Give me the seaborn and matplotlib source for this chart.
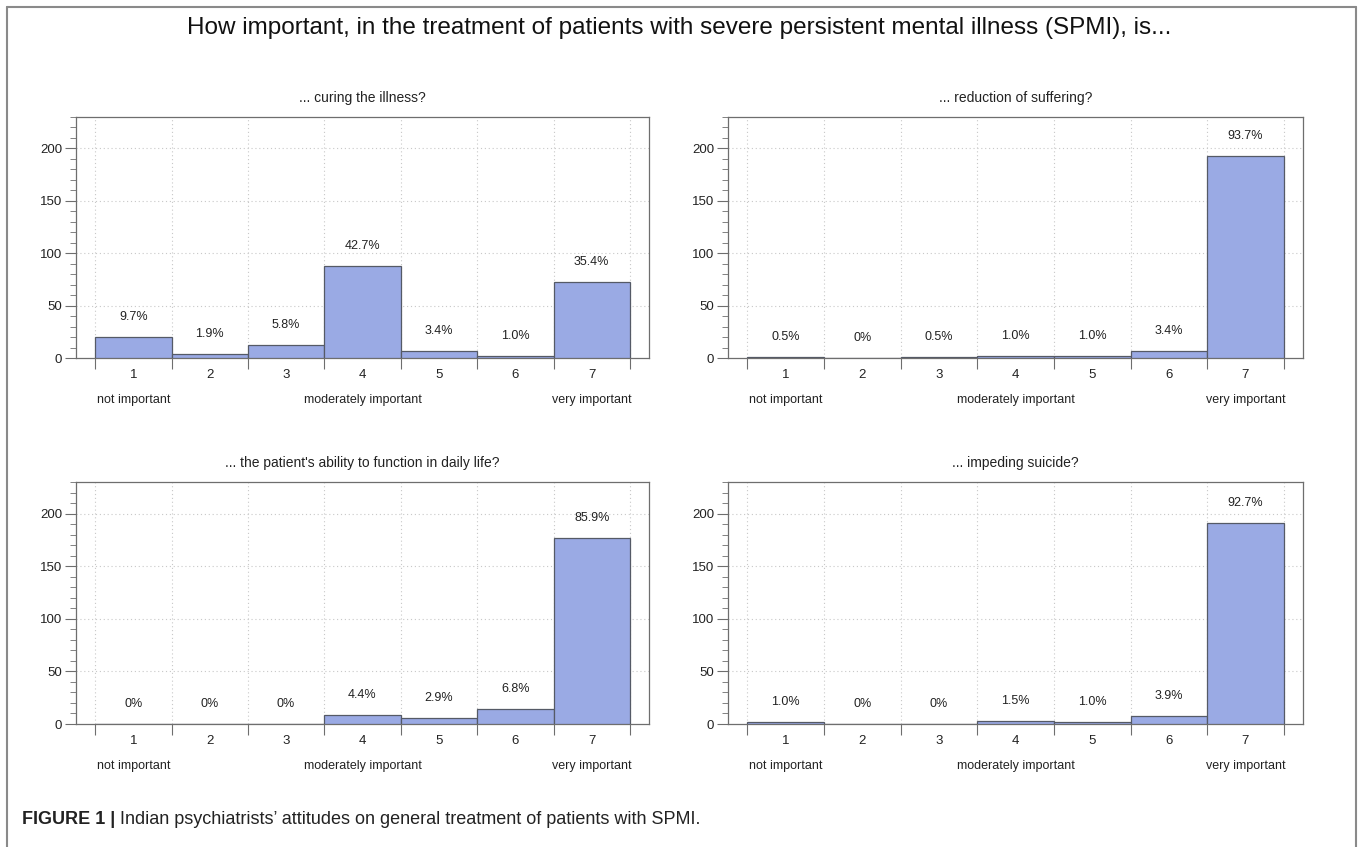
import matplotlib
matplotlib.use("Agg")
import matplotlib.pyplot as plt
from matplotlib.lines import Line2D
import numpy as np
import pandas as pd
import seaborn as sns

# Response scale and survey counts per item (N = 206 psychiatrists)
scale = ["1", "2", "3", "4", "5", "6", "7"]
curing = [20, 4, 12, 88, 7, 2, 73]
suffering = [1, 0, 1, 2, 2, 7, 193]
functioning = [0, 0, 0, 9, 6, 14, 177]
suicide = [2, 0, 0, 3, 2, 8, 191]

panel_titles = [
    "... curing the illness?",
    "... reduction of suffering?",
    "... the patient's ability to function in daily life?",
    "... impeding suicide?",
]
anchor_labels = {0: "not important", 3: "moderately important", 6: "very important"}

main_title = ("How important, in the treatment of patients with severe persistent "
              "mental illness (SPMI), is...")
caption_bold = "FIGURE 1 |"
caption_text = "Indian psychiatrists\u2019 attitudes on general treatment of patients with SPMI."

sns.set_theme(style="white")
plt.rcParams["font.family"] = ["Liberation Sans", "DejaVu Sans"]

BAR = "#9aaae4"
EDGE = "#555a66"
SPINE = "#6e6e6e"
TXT = "#222222"

W, H = 1358, 847
fig = plt.figure(figsize=(W / 100, H / 100), dpi=100)

# axes boxes in pixels: (left, right, top, bottom)
boxes = [
    (76, 649, 117, 358),
    (728, 1303, 117, 358),
    (76, 649, 482, 724),
    (728, 1303, 482, 724),
]
series = [curing, suffering, functioning, suicide]

for (l, r, t, b), counts, title in zip(boxes, series, panel_titles):
    ax = fig.add_axes([l / W, 1 - b / H, (r - l) / W, (b - t) / H])
    total = sum(counts)
    df = pd.DataFrame({"score": scale, "count": counts})
    sns.barplot(data=df, x="score", y="count", ax=ax, width=1.0,
                color=BAR, saturation=1, edgecolor=EDGE, linewidth=0.9,
                zorder=3)
    ax.set_xlim(-0.75, 6.75)
    ax.set_ylim(0, 230)
    ax.set_xlabel("")
    ax.set_ylabel("")

    # bin edges carry ticks and vertical grid; bin centres carry labels
    edges = np.arange(-0.5, 7.0, 1.0)
    ax.set_xticks(edges)
    ax.set_xticklabels([])
    ax.set_xticks(np.arange(7), minor=True)
    ax.set_xticklabels(scale, minor=True)
    ax.tick_params(axis="x", which="major", direction="out", length=8,
                   width=0.8, color=SPINE, bottom=True)
    ax.tick_params(axis="x", which="minor", length=0, pad=8,
                   labelsize=9.5, labelcolor=TXT)

    ax.set_yticks([0, 50, 100, 150, 200])
    ax.set_yticks(np.arange(0, 231, 10), minor=True)
    ax.tick_params(axis="y", which="major", direction="out", length=8,
                   width=0.8, color=SPINE, left=True, labelsize=9.5,
                   labelcolor=TXT, pad=2)
    ax.tick_params(axis="y", which="minor", direction="out", length=4,
                   width=0.6, color=SPINE, left=True)

    for x in edges:
        ax.axvline(x, color="#c8c8c8", lw=0.8, ls=(0, (1, 2.5)), zorder=1)
    for y in [50, 100, 150, 200]:
        ax.axhline(y, color="#c8c8c8", lw=0.8, ls=(0, (1, 2.5)), zorder=1)

    for s in ax.spines.values():
        s.set_color(SPINE)
        s.set_linewidth(0.9)
        s.set_visible(True)

    for i, c in enumerate(counts):
        pct = 100 * c / total
        lab = "0%" if c == 0 else f"{pct:.1f}%"
        ax.annotate(lab, (i, c), xytext=(0, 20), textcoords="offset pixels",
                    ha="center", va="center", fontsize=9, color=TXT)

    for i, lab in anchor_labels.items():
        ax.annotate(lab, (i, 0), xycoords=("data", "axes fraction"),
                    xytext=(0, -42), textcoords="offset pixels",
                    ha="center", va="center", fontsize=9, color=TXT)

    ax.set_title(title, fontsize=10, color=TXT, pad=11)

fig.text(0.5, 1 - 28 / H, main_title, ha="center", va="center",
         fontsize=17.5, color="#111111")

# caption
cap_y = 1 - 819 / H
cap1 = fig.text(22 / W, cap_y, caption_bold, ha="left", va="center",
                fontsize=13, fontweight="bold", color=TXT)
fig.canvas.draw()
bb = cap1.get_window_extent()
fig.text((bb.x1 + 5) / W, cap_y, caption_text, ha="left", va="center",
         fontsize=13, color=TXT)

# outer frame (open at the bottom)
fc = "#8a8a8a"
fig.add_artist(Line2D([7 / W, 7 / W], [0, 1 - 7 / H], color=fc, lw=1.5))
fig.add_artist(Line2D([7 / W, 1356 / W], [1 - 7 / H, 1 - 7 / H], color=fc, lw=1.5))
fig.add_artist(Line2D([1356 / W, 1356 / W], [0, 1 - 7 / H], color=fc, lw=1.5))

fig.savefig("out.png", dpi=100, facecolor="white")
